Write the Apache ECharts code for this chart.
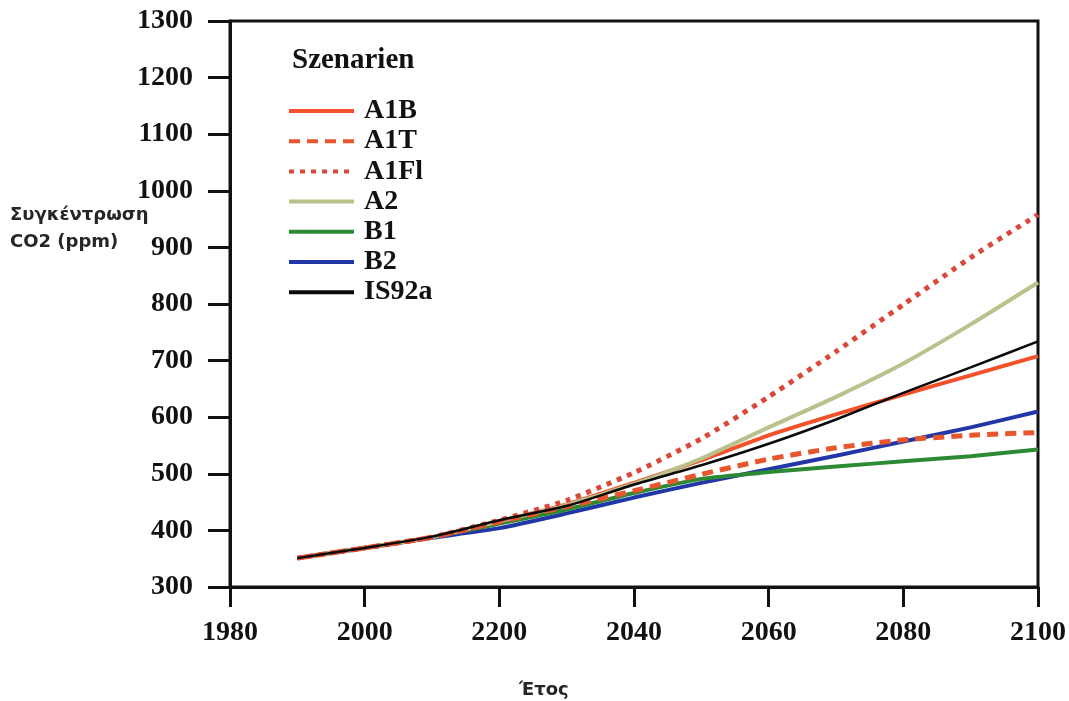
<!DOCTYPE html>
<html>
<head>
<meta charset="utf-8">
<script src="https://cdn.jsdelivr.net/npm/echarts@6/dist/echarts.min.js"></script>
<style>
  html, body { margin: 0; padding: 0; background: #ffffff; }
  #chart { width: 1069px; height: 701px; }
</style>
</head>
<body>
<div id="chart"></div>
<script>
// CO2 concentration scenarios (ppm), one value per decade
const years = [1990, 2000, 2010, 2020, 2030, 2040, 2050, 2060, 2070, 2080, 2090, 2100];

const a1b   = [351, 369, 388, 416, 446, 484, 524, 568, 605, 640, 674, 708];
const a1t   = [351, 369, 388, 415, 442, 470, 499, 526, 546, 560, 568, 573];
const a1fl  = [351, 369, 388, 418, 453, 502, 562, 636, 716, 799, 882, 958];
const a2    = [351, 369, 388, 416, 445, 482, 527, 582, 636, 695, 764, 838];
const b1    = [351, 369, 388, 412, 437, 466, 491, 503, 513, 522, 531, 543];
const b2    = [351, 369, 387, 404, 430, 458, 484, 508, 532, 557, 582, 610];
const is92a = [351, 369, 389, 418, 443, 481, 515, 553, 596, 643, 688, 734];

// Tick labels as printed on the year axis
const xTickValues = [1980, 2000, 2020, 2040, 2060, 2080, 2100];
const xTickLabels = ['1980', '2000', '2200', '2040', '2060', '2080', '2100'];

const yAxisTitle = 'Συγκέντρωση\nCO2 (ppm)';
const xAxisTitle = 'Έτος';
const legendTitle = 'Szenarien';

const pairs = arr => years.map((y, i) => [y, arr[i]]);

const serifBold = {
  fontFamily: '"Liberation Serif", "DejaVu Serif", serif',
  fontWeight: 'bold',
  color: '#111111'
};

const sansLabel = {
  fontFamily: '"DejaVu Sans", sans-serif',
  fontWeight: 'bold',
  color: '#262626'
};

function lineSeries(name, data, color, width, type, z) {
  return {
    name: name,
    type: 'line',
    data: pairs(data),
    symbol: 'none',
    smooth: 0.2,
    z: z,
    lineStyle: { color: color, width: width, type: type },
    itemStyle: { color: color },
    emphasis: { disabled: true }
  };
}

const chart = echarts.init(document.getElementById('chart'), null, { renderer: 'canvas' });

chart.setOption({
  animation: false,
  backgroundColor: '#ffffff',
  title: [
    {
      text: yAxisTitle,
      left: 10, top: 202,
      padding: 0,
      textStyle: Object.assign({ fontSize: 18, lineHeight: 27 }, sansLabel)
    },
    {
      text: xAxisTitle,
      left: 519, top: 681,
      padding: 0,
      textStyle: Object.assign({ fontSize: 18 }, sansLabel)
    },
    {
      text: legendTitle,
      left: 292, top: 46,
      padding: 0,
      textStyle: Object.assign({ fontSize: 29 }, serifBold)
    }
  ],
  legend: {
    orient: 'vertical',
    left: 287,
    top: 97,
    padding: 0,
    itemWidth: 65,
    itemHeight: 28,
    itemGap: 2.2,
    selectedMode: false,
    itemStyle: { opacity: 0 },
    lineStyle: { width: 4 },
    textStyle: Object.assign({ fontSize: 28, padding: [0, 0, 0, 5] }, serifBold),
    data: ['A1B', 'A1T', 'A1Fl', 'A2', 'B1', 'B2', 'IS92a']
  },
  grid: {
    left: 230,
    right: 25,
    top: 21,
    bottom: 114,
    show: true,
    borderColor: '#111111',
    borderWidth: 3,
    backgroundColor: 'transparent'
  },
  xAxis: {
    type: 'value',
    min: 1980,
    max: 2100,
    interval: 20,
    axisLine: { show: true, lineStyle: { color: '#111111', width: 3 } },
    axisTick: { show: true, inside: false, length: 20, lineStyle: { color: '#111111', width: 3 } },
    splitLine: { show: false },
    axisLabel: Object.assign({
      fontSize: 28,
      margin: 32,
      formatter: v => {
        const i = xTickValues.indexOf(v);
        return i >= 0 ? xTickLabels[i] : '';
      }
    }, serifBold)
  },
  yAxis: {
    type: 'value',
    min: 300,
    max: 1300,
    interval: 100,
    axisLine: { show: true, lineStyle: { color: '#111111', width: 3 } },
    axisTick: { show: true, inside: false, length: 22, lineStyle: { color: '#111111', width: 3 } },
    splitLine: { show: false },
    axisLabel: Object.assign({ fontSize: 28, margin: 37, formatter: v => String(v) }, serifBold)
  },
  series: [
    lineSeries('A1B',   a1b,   '#f4502a', 4, 'solid', 3),
    lineSeries('A1T',   a1t,   '#e8562e', 5, [11, 7], 4),
    lineSeries('A1Fl',  a1fl,  '#d9483a', 5, [5, 6], 4),
    lineSeries('A2',    a2,    '#b9c18c', 4, 'solid', 3),
    lineSeries('B1',    b1,    '#2c8a34', 4, 'solid', 2),
    lineSeries('B2',    b2,    '#2137a8', 4, 'solid', 1),
    lineSeries('IS92a', is92a, '#0a0a0a', 2.5, 'solid', 5)
  ]
});
</script>
</body>
</html>
